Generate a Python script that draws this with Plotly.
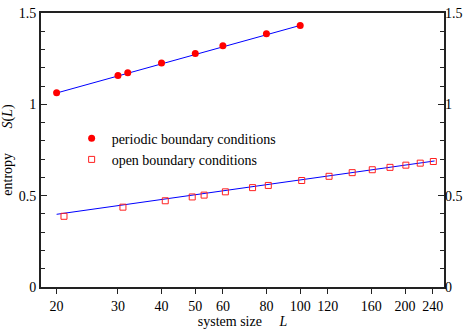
import math
import plotly.graph_objects as go

# Data
L_periodic = [20, 30, 32, 40, 50, 60, 80, 100]
S_periodic = [1.063, 1.158, 1.173, 1.226, 1.278, 1.321, 1.386, 1.432]

L_open = [21, 31, 41, 49, 53, 61, 73, 81, 101, 121, 141, 161, 181, 201, 221, 241]
S_open = [0.387, 0.437, 0.472, 0.493, 0.503, 0.521, 0.544, 0.556, 0.583, 0.606,
          0.626, 0.642, 0.655, 0.667, 0.678, 0.687]

# fitted lines (end points)
fit_L_periodic = [20, 100]
fit_S_periodic = [1.062, 1.432]
fit_L_open = [20, 243]
fit_S_open = [0.398, 0.690]

x_ticks = [20, 30, 40, 50, 60, 80, 100, 120, 160, 200, 240]
y_ticks = [0, 0.5, 1, 1.5]

FONT = "Liberation Serif"
AX = "#222222"
FS = 14

fig = go.Figure()
fig.add_trace(go.Scatter(x=fit_L_periodic, y=fit_S_periodic, mode="lines",
                         line=dict(color="#0000ff", width=1), showlegend=False, hoverinfo="skip"))
fig.add_trace(go.Scatter(x=fit_L_open, y=fit_S_open, mode="lines",
                         line=dict(color="#0000ff", width=1), showlegend=False, hoverinfo="skip"))
fig.add_trace(go.Scatter(x=L_periodic, y=S_periodic, mode="markers",
                         name="periodic boundary conditions",
                         marker=dict(symbol="circle", size=7, color="#ff0000")))
fig.add_trace(go.Scatter(x=L_open, y=S_open, mode="markers",
                         name="open boundary conditions",
                         marker=dict(symbol="square-open", size=6, color="#ff2020",
                                     line=dict(width=1, color="#ff2020"))))
# invisible trace for the right axis
fig.add_trace(go.Scatter(x=[L_open[0]], y=[S_open[0]], yaxis="y2", mode="markers",
                         marker=dict(opacity=0), showlegend=False, hoverinfo="skip"))

fig.update_layout(
    width=469, height=332,
    margin=dict(l=41, r=23, t=6, b=42),
    paper_bgcolor="white", plot_bgcolor="white",
    font=dict(family=FONT, size=FS, color="black"),
    showlegend=True,
    legend=dict(x=0.076, y=0.60, xanchor="left", yanchor="top",
                bgcolor="rgba(0,0,0,0)", font=dict(family=FONT, size=FS),
                tracegroupgap=0, itemsizing="trace"),
    xaxis=dict(
        type="log",
        range=[math.log10(18.04), math.log10(258.6)],
        tickvals=x_ticks, ticktext=[str(v) for v in x_ticks],
        ticks="outside", ticklen=5, tickwidth=1, tickcolor=AX,
        showline=True, linecolor=AX, linewidth=2, mirror=True,
        showgrid=False, zeroline=False,
        tickfont=dict(family=FONT, size=FS),
        title=dict(text="system size" + "&nbsp;" * 5 + "<i>L</i>", font=dict(family=FONT, size=FS), standoff=2),
    ),
    yaxis=dict(
        range=[0, 1.5], tickvals=y_ticks,
        ticks="inside", ticklen=6, tickwidth=1, tickcolor=AX,
        minor=dict(dtick=0.1, ticks="inside", ticklen=4, tickcolor=AX, showgrid=False),
        showline=True, linecolor=AX, linewidth=2, mirror=True,
        showgrid=False, zeroline=False,
        tickfont=dict(family=FONT, size=FS),
        title=dict(text="entropy" + "&nbsp;" * 7 + "<i>S</i>(<i>L</i>)", font=dict(family=FONT, size=FS), standoff=3),
    ),
    yaxis2=dict(
        overlaying="y", side="right",
        range=[0, 1.5], tickvals=y_ticks,
        ticks="inside", ticklen=6, tickwidth=1, tickcolor=AX,
        minor=dict(dtick=0.1, ticks="inside", ticklen=4, tickcolor=AX, showgrid=False),
        showline=False, showgrid=False, zeroline=False,
        tickfont=dict(family=FONT, size=FS),
    ),
)

fig.write_html("out.html", config={"displayModeBar": False},
               post_script="document.body.style.margin='0';")
